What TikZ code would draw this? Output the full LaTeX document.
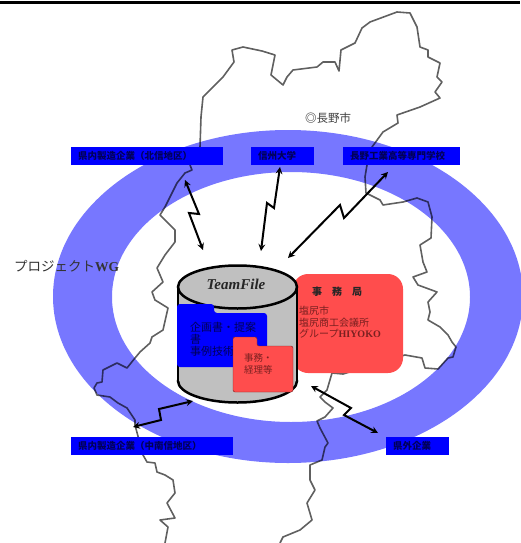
\documentclass[tikz,border=0pt]{standalone}
\usepackage{fontspec}
\setmainfont{Noto Sans CJK JP}
\newfontfamily\latinserif{Liberation Serif}
\usetikzlibrary{arrows}
\definecolor{ringblue}{HTML}{7777FF}
\definecolor{boxblue}{HTML}{0000FF}
\definecolor{boxtext}{HTML}{000058}
\definecolor{officered}{HTML}{FF4D4D}
\definecolor{officetext}{HTML}{7A2020}
\definecolor{drumgray}{HTML}{C0C0C0}
\definecolor{mapgray}{HTML}{606060}
\tikzstyle{orgbox}=[fill=boxblue,text=boxtext,inner xsep=7pt,inner ysep=0pt,minimum height=18pt,font=\fontsize{9.5pt}{11pt}\selectfont\bfseries]
\tikzstyle{bolt}=[<->,>=stealth,line width=2pt]
\tikzstyle{maparc}=[mapgray,line width=1.6pt,line join=round]
\tikzstyle{plaintext}=[inner sep=0pt,anchor=west,align=left]

\begin{document}
\begin{tikzpicture}[x=1pt,y=-1pt]
\useasboundingbox (0,0) rectangle (520,543);
\draw[line width=2.4pt] (0,2.6) -- (520,2.6);

% prefecture border
\draw[maparc]
  (200,147) -- (201,117) -- (203,97) -- (212,88) -- (223,77) -- (234,62) -- (232,50) -- (243,47)
  -- (262,51) -- (275,55) -- (271,75) -- (283,85) -- (287,77) -- (293,70) -- (317,67) -- (323,62)
  -- (335,62) -- (339,71) -- (341,50) -- (355,43) -- (362,28) -- (370,22) -- (397,12) -- (410,13)
  -- (417,27) -- (420,47) -- (428,50) -- (428,57) -- (440,63) -- (437,77) -- (442,82) -- (435,92)
  -- (440,98) -- (420,107) -- (397,115) -- (398,123) -- (383,132) -- (372,147) -- (367,165)
  -- (365,177) -- (366,193) -- (380,200) -- (383,205) -- (403,202) -- (417,198) -- (428,202)
  -- (432,217) -- (431,238) -- (420,245) -- (423,262) -- (427,272) -- (413,277) -- (418,285)
  -- (437,292) -- (428,302) -- (430,312) -- (428,320) -- (440,327) -- (448,335) -- (452,342)
  -- (456,347) -- (453,357) -- (448,358) -- (438,369) -- (425,368) -- (422,358) -- (405,355)
  -- (343,374) -- (332,373) -- (327,390) -- (320,397) -- (325,402) -- (333,408) -- (325,417)
  -- (317,421) -- (320,428) -- (328,443) -- (325,447) -- (322,460) -- (310,465) -- (310,480)
  -- (315,490) -- (307,503) -- (312,520) -- (300,530) -- (283,537) -- (280,543);
\draw[maparc]
  (165,543) -- (168,527) -- (160,520) -- (175,518) -- (167,503) -- (175,493) -- (173,480)
  -- (165,475) -- (157,472) -- (155,463) -- (147,462) -- (143,455) -- (135,425) -- (135,420)
  -- (127,408) -- (118,403) -- (110,397) -- (97,395) -- (94,388) -- (97,383) -- (102,382)
  -- (103,370) -- (117,363) -- (127,368) -- (135,358) -- (140,352) -- (150,343) -- (152,337)
  -- (163,330) -- (168,308) -- (155,300) -- (152,292) -- (163,282) -- (157,268) -- (165,255)
  -- (175,242) -- (175,230) -- (160,215) -- (165,207) -- (177,183) -- (185,173) -- (192,170)
  -- (190,165) -- (200,147);

\fill[ringblue,even odd rule,blend mode=multiply]
  (288,296.5) ellipse [x radius=235,y radius=166.5]
  (291,297) ellipse [x radius=179,y radius=125];

\node[orgbox,text width=138pt] (hokushin) at (147,156) {県内製造企業（北信地区）};
\node[orgbox,text width=49pt] (shinshu) at (282.5,156) {信州大学};
\node[orgbox,text width=103pt] (kosen) at (401.5,156) {長野工業高等専門学校};
\node[orgbox,text width=148pt] (nanshin) at (152,446) {県内製造企業（中南信地区）};
\node[orgbox,text width=49pt] (kengai) at (417.5,446) {県外企業};

\node[plaintext,font=\fontsize{11.5pt}{13pt}\selectfont,text=black!75] (nagano) at (305,118) {{\bfseries ◎}長野市};
\node[plaintext,font=\fontsize{13.5pt}{15pt}\selectfont,text=black!80] (wg) at (14,266) {プロジェクト{\latinserif\bfseries WG}};

% office
\node[fill=officered,rounded corners=15pt,minimum width=110pt,minimum height=99pt,inner sep=0pt] (office) at (348,323.5) {};
\node[plaintext,font=\fontsize{10pt}{11pt}\selectfont\bfseries,text=black!85] (officetitle) at (312,292) {事\hspace{1em}務\hspace{1em}局};
\node[plaintext,font=\fontsize{10pt}{11.5pt}\selectfont,text=officetext] (officemembers) at (299,322.5)
  {塩尻市\\塩尻商工会議所\\グループ{\latinserif\bfseries HIYOKO}};

% drum
\draw[fill=drumgray,line width=2.5pt] (237.5,381) ellipse [x radius=59.5,y radius=21.5];
\fill[drumgray] (178,287) rectangle (297,381);
\draw[line width=2.5pt] (178,287) -- (178,381);
\draw[line width=2.5pt] (297,287) -- (297,381);
\draw[fill=drumgray,line width=2.5pt] (237.5,287) ellipse [x radius=59.5,y radius=21.5];
\node[inner sep=0pt,font=\fontsize{15pt}{17pt}\selectfont\latinserif\bfseries\itshape,text=black!85] (teamfile) at (236,284) {TeamFile};

% folders
\fill[boxblue,rounded corners=3pt] (177,367) -- (177,304) -- (214,304) -- (214,313) -- (267,313) -- (267,367) -- cycle;
\node[plaintext,font=\fontsize{11pt}{12pt}\selectfont,text=boxtext] (planfolder) at (190,339) {企画書・提案\\書\\事例技術};
\draw[fill=officered,draw=officetext,rounded corners=2pt] (233,392) -- (233,337) -- (257,337) -- (257,346) -- (293,346) -- (293,392) -- cycle;
\node[plaintext,font=\fontsize{9.5pt}{12pt}\selectfont,text=officetext] (adminfolder) at (244,364) {事務・\\経理等};

% bolts
\coordinate (hokushintip) at (185,180);
\coordinate (drumnw) at (203,250);
\coordinate (shinshutip) at (280,167);
\coordinate (drumn) at (261,251);
\coordinate (kosentip) at (388,172);
\coordinate (drumne) at (288,258);
\coordinate (nanshintip) at (133,427);
\coordinate (drumsw) at (193,401);
\coordinate (kengaitip) at (378,433);
\coordinate (drumse) at (311,386);
\draw[bolt] (hokushintip) -- (199,214) -- (189,213) -- (drumnw);
\draw[bolt] (shinshutip) -- (274,208) -- (267,203) -- (drumn);
\draw[bolt] (kosentip) -- (344,218) -- (340,205) -- (drumne);
\draw[bolt] (nanshintip) -- (161,420) -- (159,409) -- (drumsw);
\draw[bolt] (drumse) -- (351,408) -- (344,415) -- (kengaitip);
\end{tikzpicture}
\end{document}
